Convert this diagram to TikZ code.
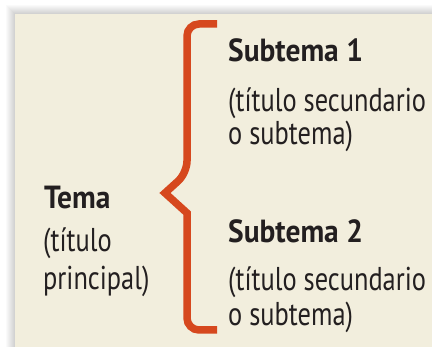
\documentclass[tikz,border=0pt]{standalone}
\usepackage{fontspec}
\setmainfont{PT Sans}[UprightFeatures={FakeStretch=0.8}, BoldFeatures={FakeStretch=0.92}]
\definecolor{paper}{RGB}{242,238,221}
\definecolor{bracecol}{RGB}{214,72,30}
\definecolor{ink}{RGB}{35,31,32}

\begin{document}
\begin{tikzpicture}[x=1pt, y=-1pt,
    head/.style={anchor=base west, inner sep=0pt, text=ink, font=\fontsize{32}{38}\selectfont\bfseries},
    body/.style={anchor=base west, inner sep=0pt, text=ink, font=\fontsize{33}{38}\selectfont}]
      \useasboundingbox (0,0) rectangle (432,347);
      \fill[white] (0,0) rectangle (432,347);
      \foreach \i in {1,...,9}
        \fill[black, opacity=0.018] (15-\i,14-\i) rectangle (432,347);
      \fill[paper] (15,14) rectangle (432,347);

      \node[head] (tema) at (44,209) {Tema};
      \node[body] (tema-a) at (43,252) {(título};
      \node[body] (tema-b) at (43,290) {principal)};

      \node[head] (sub1) at (228,62) {Subtema 1};
      \node[body] (sub1-a) at (228,112) {(título secundario};
      \node[body] (sub1-b) at (228,145) {o subtema)};

      \node[head] (sub2) at (228,243) {Subtema 2};
      \node[body] (sub2-a) at (228,291) {(título secundario};
      \node[body] (sub2-b) at (228,326) {o subtema)};

      \coordinate (top) at (217,24);
      \coordinate (bot) at (217,330);
      \coordinate (tip) at (165,193);
      \draw[bracecol, line width=7.5pt, rounded corners=12pt] (top) -- (187,24) -- (187,173)
        [sharp corners] -- (tip) -- (187,213) [rounded corners=12pt] -- (187,330) -- (bot);
    \end{tikzpicture}
\end{document}
